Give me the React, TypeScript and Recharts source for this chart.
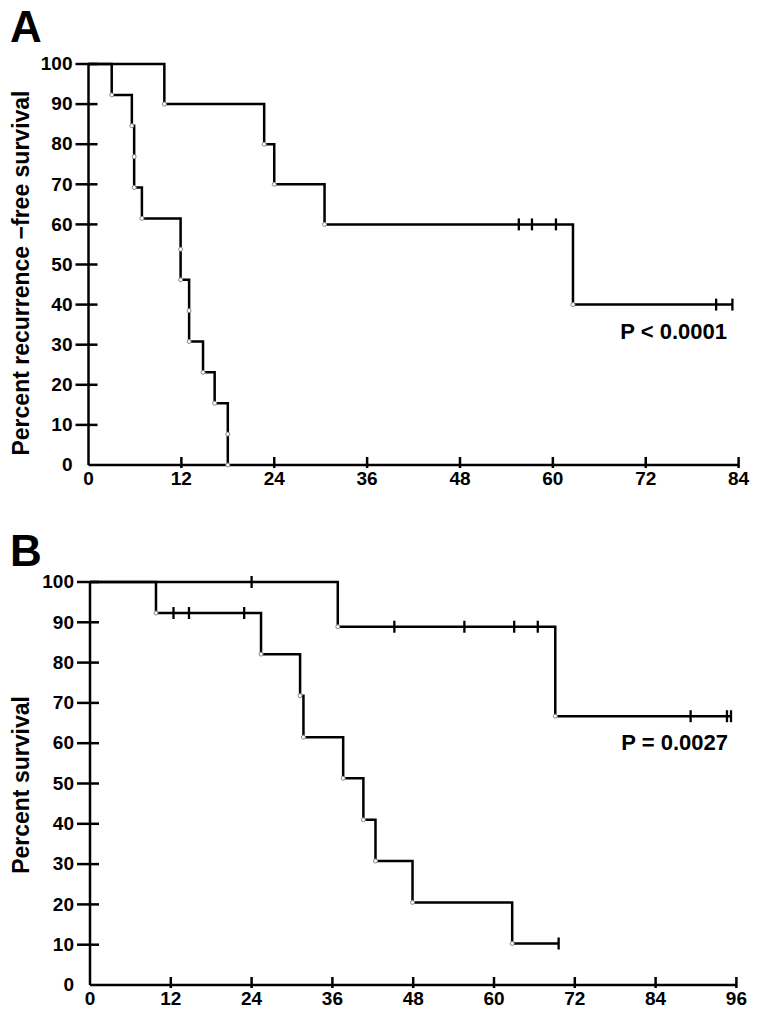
import { ComposedChart, Line, Scatter, XAxis, YAxis } from "recharts"

const FONT = '"Liberation Sans", Arial, Helvetica, sans-serif'

const percentTicks = [0, 10, 20, 30, 40, 50, 60, 70, 80, 90, 100]
const monthTicksA = [0, 12, 24, 36, 48, 60, 72, 84]
const monthTicksB = [0, 12, 24, 36, 48, 60, 72, 84, 96]

// Panel A: recurrence-free survival
const rfsUpperMonths = [0, 9.8, 22.7, 24.0, 30.5, 62.6, 83.2]
const rfsUpperPct = [100, 90, 80, 70, 60, 40, 40]
const rfsUpperCensorMonths = [55.6, 57.3, 60.4, 81.1, 83.2]
const rfsUpperCensorPct = [60, 60, 60, 40, 40]

const rfsLowerMonths = [0, 3.0, 5.6, 5.9, 5.9, 6.9, 11.9, 11.9, 13.0, 13.0, 14.8, 16.3, 18.0, 18.0]
const rfsLowerPct = [100, 92.3, 84.6, 76.9, 69.2, 61.5, 53.8, 46.2, 38.5, 30.8, 23.1, 15.4, 7.7, 0]

// Panel B: overall survival
const osUpperMonths = [0, 36.8, 69.1, 95.2]
const osUpperPct = [100, 88.9, 66.7, 66.7]
const osUpperCensorMonths = [24.0, 45.2, 55.6, 63.0, 66.5, 89.2, 94.6, 95.2]
const osUpperCensorPct = [100, 88.9, 88.9, 88.9, 88.9, 66.7, 66.7, 66.7]

const osLowerMonths = [0, 9.8, 25.4, 31.2, 31.7, 37.6, 40.6, 42.4, 47.9, 62.7, 69.6]
const osLowerPct = [100, 92.3, 82.1, 71.8, 61.5, 51.3, 41.0, 30.8, 20.5, 10.3, 10.3]
const osLowerCensorMonths = [12.4, 14.7, 22.9, 69.6]
const osLowerCensorPct = [92.3, 92.3, 92.3, 10.3]

type Pt = { t: number; s: number }

const zip = (ts: number[], ps: number[]): Pt[] => ts.map((t, i) => ({ t, s: ps[i] }))
const drops = (pts: Pt[]) => pts.filter((p, i) => i > 0 && p.s < pts[i - 1].s)

function XTick({ x, y, payload }: any) {
  return (
    <g>
      {payload.value !== 0 && (
        <line x1={x} x2={x} y1={y - 8} y2={y + 3} stroke="#000" strokeWidth={2.5} />
      )}
      <text x={x} y={y + 20} textAnchor="middle" fontSize={19} fontWeight="bold" fontFamily={FONT} fill="#000">
        {payload.value}
      </text>
    </g>
  )
}

function YTick({ x, y, payload }: any) {
  return (
    <g>
      {payload.value !== 0 && (
        <line x1={x - 13} x2={x + 9} y1={y} y2={y} stroke="#000" strokeWidth={2.5} />
      )}
      <text x={x - 16} y={y} dy="0.33em" textAnchor="end" fontSize={19} fontWeight="bold" fontFamily={FONT} fill="#000">
        {payload.value}
      </text>
    </g>
  )
}

function EventDot({ cx, cy }: any) {
  return <circle cx={cx} cy={cy} r={2} fill="#fff" stroke="#888" strokeWidth={1} />
}

function CensorMark({ cx, cy }: any) {
  return <line x1={cx} x2={cx} y1={cy - 6} y2={cy + 6} stroke="#000" strokeWidth={2.3} />
}

interface PanelProps {
  top: number
  xMax: number
  xTicks: number[]
  yAxisWidth: number
  marginTop: number
  marginRight: number
  curves: Pt[][]
  censors: Pt[]
  yLabel: string
  yLabelY: number
}

function KMPanel({ top, xMax, xTicks, yAxisWidth, marginTop, marginRight, curves, censors, yLabel, yLabelY }: PanelProps) {
  const events = curves.flatMap(drops)
  return (
    <div style={{ position: "absolute", left: 0, top }}>
      <ComposedChart width={762} height={500} margin={{ top: marginTop, right: marginRight, left: 0, bottom: 5 }}>
        <XAxis
          type="number"
          dataKey="t"
          domain={[0, xMax]}
          ticks={xTicks}
          interval={0}
          height={30}
          tickSize={0}
          tickMargin={0}
          tickLine={false}
          axisLine={{ stroke: "#000", strokeWidth: 2.5 }}
          tick={XTick}
        />
        <YAxis
          type="number"
          dataKey="s"
          domain={[0, 100]}
          ticks={percentTicks}
          interval={0}
          width={yAxisWidth}
          tickSize={0}
          tickMargin={0}
          tickLine={false}
          axisLine={{ stroke: "#000", strokeWidth: 2.5 }}
          tick={YTick}
          label={() => (
            <text
              x={29}
              y={yLabelY - top}
              transform={`rotate(-90 29 ${yLabelY - top})`}
              textAnchor="middle"
              fontSize={23}
              fontWeight="bold"
              fontFamily={FONT}
              fill="#000"
            >
              {yLabel}
            </text>
          )}
        />
        {curves.map((c, i) => (
          <Line
            key={i}
            data={c}
            dataKey="s"
            type="stepAfter"
            stroke="#000"
            strokeWidth={2.5}
            dot={false}
            activeDot={false}
            isAnimationActive={false}
          />
        ))}
        <Scatter data={events} shape={EventDot} isAnimationActive={false} />
        <Scatter data={censors} shape={CensorMark} isAnimationActive={false} />
      </ComposedChart>
    </div>
  )
}

export default function App() {
  return (
    <div style={{ position: "absolute", left: 0, top: 0, width: 762, height: 1026, background: "#fff" }}>
      <KMPanel
        top={0}
        xMax={84}
        xTicks={monthTicksA}
        yAxisWidth={88.5}
        marginTop={64}
        marginRight={23.4}
        curves={[zip(rfsUpperMonths, rfsUpperPct), zip(rfsLowerMonths, rfsLowerPct)]}
        censors={zip(rfsUpperCensorMonths, rfsUpperCensorPct)}
        yLabel="Percent recurrence −free survival"
        yLabelY={273}
      />
      <KMPanel
        top={520}
        xMax={96}
        xTicks={monthTicksB}
        yAxisWidth={90}
        marginTop={62}
        marginRight={25.6}
        curves={[zip(osUpperMonths, osUpperPct), zip(osLowerMonths, osLowerPct)]}
        censors={[...zip(osUpperCensorMonths, osUpperCensorPct), ...zip(osLowerCensorMonths, osLowerCensorPct)]}
        yLabel="Percent survival"
        yLabelY={785}
      />
      <svg
        width={762}
        height={1026}
        style={{ position: "absolute", left: 0, top: 0, pointerEvents: "none" }}
        fontFamily={FONT}
        fontWeight="bold"
        fill="#000"
      >
        <text x={10} y={42} fontSize={44}>A</text>
        <text x={10} y={566} fontSize={44}>B</text>
        <text x={727} y={339} fontSize={22} textAnchor="end">P &lt; 0.0001</text>
        <text x={728} y={750} fontSize={22} textAnchor="end">P = 0.0027</text>
      </svg>
    </div>
  )
}
